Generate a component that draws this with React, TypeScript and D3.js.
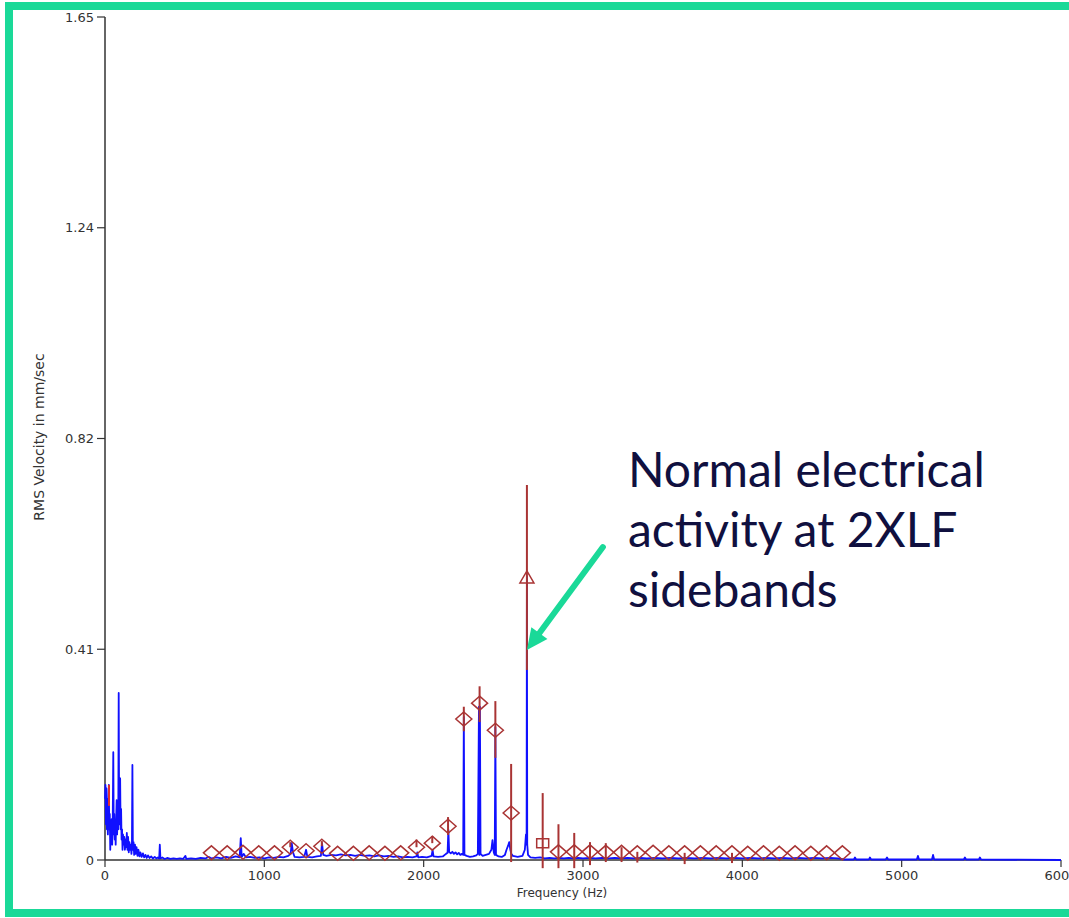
import React from "react";
import * as d3 from "d3";

// axis ticks
const freqTicks = [0, 1000, 2000, 3000, 4000, 5000, 6000];
const velTicks = [0, 0.4125, 0.825, 1.2375, 1.65];
const velLabels = ["0", "0.41", "0.82", "1.24", "1.65"];

// blue spectrum, [Hz, mm/sec]
const spectrum: [number, number][] = [
  [0, 0.12], [3, 0.147], [6, 0.07], [9, 0.14], [12, 0.06], [15, 0.12], [18, 0.05], [21, 0.1],
  [24, 0.147], [27, 0.06], [30, 0.09], [33, 0.02], [36, 0.07], [39, 0.04], [42, 0.08], [45, 0.03],
  [48, 0.06], [52, 0.211], [55, 0.05], [58, 0.09], [61, 0.04], [64, 0.07], [67, 0.03], [70, 0.08],
  [73, 0.117], [76, 0.05], [79, 0.09], [83, 0.06], [86, 0.327], [89, 0.07], [92, 0.157], [95, 0.16],
  [98, 0.06], [101, 0.1], [104, 0.04], [107, 0.06], [110, 0.02], [113, 0.05], [117, 0.03], [121, 0.045],
  [125, 0.02], [129, 0.04], [133, 0.025], [137, 0.053], [141, 0.02], [145, 0.045], [149, 0.015], [153, 0.035],
  [157, 0.02], [162, 0.03], [166, 0.012], [169, 0.03], [172, 0.186], [175, 0.02], [179, 0.035], [183, 0.01],
  [188, 0.03], [193, 0.012], [198, 0.025], [204, 0.008], [210, 0.02], [216, 0.007], [222, 0.015], [230, 0.006],
  [238, 0.013], [246, 0.005], [254, 0.01], [262, 0.004], [270, 0.009], [280, 0.004], [290, 0.007], [300, 0.003],
  [312, 0.006], [322, 0.003], [332, 0.005], [340, 0.003], [344, 0.03], [348, 0.003], [360, 0.005], [375, 0.002],
  [390, 0.004], [410, 0.002], [430, 0.003], [450, 0.002], [470, 0.003], [490, 0.002], [505, 0.008], [510, 0.002],
  [540, 0.003], [570, 0.002], [600, 0.004], [630, 0.003], [650, 0.006], [670, 0.003], [700, 0.005], [730, 0.003],
  [760, 0.006], [790, 0.004], [820, 0.007], [845, 0.005], [852, 0.043], [858, 0.006], [870, 0.012], [885, 0.005],
  [910, 0.006], [940, 0.004], [970, 0.005], [1000, 0.003], [1030, 0.005], [1060, 0.004], [1090, 0.006], [1120, 0.005],
  [1150, 0.008], [1165, 0.012], [1172, 0.033], [1180, 0.015], [1190, 0.006], [1220, 0.005], [1250, 0.006], [1262, 0.02],
  [1270, 0.006], [1300, 0.005], [1330, 0.007], [1355, 0.008], [1362, 0.033], [1370, 0.01], [1390, 0.008], [1420, 0.01],
  [1450, 0.009], [1480, 0.011], [1510, 0.009], [1540, 0.01], [1570, 0.008], [1600, 0.01], [1630, 0.008], [1660, 0.009],
  [1690, 0.007], [1720, 0.009], [1750, 0.007], [1780, 0.008], [1810, 0.006], [1840, 0.007], [1870, 0.005], [1900, 0.006],
  [1930, 0.005], [1955, 0.007], [1960, 0.015], [1966, 0.005], [1990, 0.006], [2020, 0.005], [2050, 0.008], [2056, 0.02],
  [2062, 0.007], [2090, 0.006], [2120, 0.007], [2140, 0.012], [2150, 0.014], [2155, 0.059], [2160, 0.016], [2170, 0.013],
  [2180, 0.016], [2190, 0.012], [2200, 0.015], [2210, 0.011], [2220, 0.014], [2230, 0.01], [2240, 0.012], [2248, 0.01],
  [2252, 0.28], [2256, 0.01], [2270, 0.008], [2290, 0.006], [2310, 0.007], [2330, 0.009], [2340, 0.012], [2347, 0.3],
  [2350, 0.01], [2353, 0.3], [2357, 0.012], [2370, 0.008], [2390, 0.01], [2410, 0.012], [2425, 0.02], [2432, 0.039],
  [2440, 0.015], [2446, 0.01], [2450, 0.26], [2454, 0.01], [2470, 0.007], [2490, 0.006], [2510, 0.01], [2520, 0.02],
  [2530, 0.028], [2537, 0.035], [2544, 0.02], [2550, 0.012], [2560, 0.008], [2590, 0.006], [2620, 0.008], [2635, 0.02],
  [2642, 0.05], [2646, 0.03], [2648, 0.555], [2650, 0.03], [2655, 0.01], [2670, 0.005], [2700, 0.004], [2730, 0.005],
  [2760, 0.003], [2790, 0.004], [2820, 0.003], [2850, 0.004], [2880, 0.003], [2910, 0.004], [2940, 0.003], [2970, 0.004],
  [3000, 0.003], [3040, 0.004], [3080, 0.003], [3120, 0.004], [3160, 0.003], [3200, 0.004], [3240, 0.003], [3280, 0.004],
  [3320, 0.003], [3360, 0.004], [3400, 0.003], [3450, 0.004], [3500, 0.003], [3550, 0.004], [3600, 0.003], [3650, 0.004],
  [3700, 0.003], [3750, 0.004], [3800, 0.003], [3850, 0.004], [3900, 0.003], [3950, 0.004], [4000, 0.003], [4050, 0.004],
  [4100, 0.003], [4150, 0.004], [4200, 0.003], [4250, 0.004], [4300, 0.003], [4350, 0.004], [4400, 0.003], [4450, 0.004],
  [4500, 0.003], [4550, 0.004], [4600, 0.003], [4640, 0.001], [4700, 0.001], [4707, 0.005], [4714, 0.001], [4795, 0.001],
  [4801, 0.005], [4808, 0.001], [4900, 0.001], [4908, 0.005], [4915, 0.001], [5095, 0.001], [5102, 0.008], [5109, 0.001],
  [5190, 0.001], [5197, 0.01], [5204, 0.001], [5390, 0.001], [5397, 0.005], [5404, 0.001], [5485, 0.001], [5491, 0.005],
  [5498, 0.001], [6000, 0],
];

// fault markers (2XLF sidebands around 2648 Hz)
const markerFreq = [
  668, 767, 866, 965, 1064, 1163, 1262, 1361, 1460, 1559, 1658, 1757, 1856, 1955, 2054, 2153, 2252, 2351, 2450, 2549,
  2648, 2747, 2846, 2945, 3044, 3143, 3242, 3341, 3440, 3539, 3638, 3737, 3836, 3935, 4034, 4133, 4232, 4331, 4430,
  4529, 4628,
];
const markerShape = [
  "d", "d", "d", "d", "d", "d", "d", "d", "d", "d", "d", "d", "d", "d", "d", "d", "d", "d", "d", "d",
  "t", "s", "d", "d", "d", "d", "d", "d", "d", "d", "d", "d", "d", "d", "d", "d", "d", "d", "d", "d", "d",
];
const markerVal = [
  0.014, 0.014, 0.015, 0.014, 0.014, 0.025, 0.018, 0.027, 0.013, 0.013, 0.014, 0.013, 0.014, 0.025, 0.033, 0.066,
  0.276, 0.307, 0.254, 0.092, 0.552, 0.033, 0.016, 0.016, 0.016, 0.015, 0.015, 0.014, 0.015, 0.014, 0.014, 0.014,
  0.014, 0.014, 0.013, 0.014, 0.013, 0.014, 0.013, 0.014, 0.014,
];
const stemHi = [
  0.014, 0.014, 0.015, 0.014, 0.014, 0.035, 0.018, 0.037, 0.013, 0.013, 0.014, 0.013, 0.014, 0.04, 0.047, 0.084,
  0.3, 0.34, 0.311, 0.188, 0.734, 0.131, 0.07, 0.053, 0.035, 0.033, 0.025, 0.016, 0.015, 0.014, 0.014, 0.014,
  0.014, 0.014, 0.013, 0.014, 0.013, 0.014, 0.013, 0.014, 0.014,
];
const stemLo = [
  0.014, 0.014, 0.015, 0.014, 0.014, 0.025, 0.018, 0.027, 0.013, 0.013, 0.014, 0.013, 0.014, 0.025, 0.033, 0.049,
  0.252, 0.27, 0.2, -0.004, 0.372, -0.016, -0.016, -0.016, -0.01, -0.004, -0.004, -0.005, 0.015, 0.014, -0.008, 0.014,
  0.014, -0.006, 0.013, 0.014, 0.013, 0.014, 0.013, 0.014, 0.014,
];
// lone marker line near running speed
const lowStem = { f: 25, lo: 0.106, hi: 0.147 };

const noteLines = ["Normal electrical", "activity at 2XLF", "sidebands"];

const W = 1069;
const H = 918;
const GREEN = "#1ad998";
const RED = "#a93434";
const AXIS = "#333";

export default function App() {
  const x = d3.scaleLinear().domain([0, 6000]).range([105, 1061]);
  const y = d3.scaleLinear().domain([0, 1.65]).range([860, 17]);

  const line = d3
    .line<[number, number]>()
    .x((d) => x(d[0]))
    .y((d) => y(d[1]));

  const shapePath = (s: string) => {
    if (s === "t") return "M0,-7 L7,5 L-7,5 Z";
    if (s === "s") return "M-6,-4.5 L6,-4.5 L6,4.5 L-6,4.5 Z";
    return "M0,-7 L8,0 L0,7 L-8,0 Z";
  };

  // arrow, in data units
  const a0 = [x(3125), y(0.6125)];
  const a1 = [x(2648), y(0.411)];
  const dx = a1[0] - a0[0];
  const dy = a1[1] - a0[1];
  const len = Math.hypot(dx, dy);
  const ux = dx / len;
  const uy = dy / len;
  const headL = 21;
  const headW = 10;
  const bx = a1[0] - ux * headL;
  const by = a1[1] - uy * headL;

  const noteX = x(3282);
  const noteY = y(0.73);

  return (
    <svg
      width={W}
      height={H}
      style={{ position: "absolute", left: 0, top: 0, background: "#fff" }}
      fontFamily="DejaVu Sans, sans-serif"
    >
      <rect x={9} y={6} width={1120} height={907} fill="none" stroke={GREEN} strokeWidth={8} />

      {/* axes */}
      <line x1={x(0)} x2={x(0)} y1={y(0)} y2={y(1.65)} stroke={AXIS} strokeWidth={1.5} />
      <line x1={x(0)} x2={x(6000)} y1={y(0)} y2={y(0)} stroke={AXIS} strokeWidth={1.5} />
      {velTicks.map((v, i) => (
        <g key={"yt" + i}>
          <line x1={x(0) - 8} x2={x(0)} y1={y(v)} y2={y(v)} stroke={AXIS} strokeWidth={1.2} />
          <text x={x(0) - 11} y={y(v) + 4.5} textAnchor="end" fontSize={13} fill={AXIS}>
            {velLabels[i]}
          </text>
        </g>
      ))}
      {freqTicks.map((f) => (
        <g key={"xt" + f}>
          <line x1={x(f)} x2={x(f)} y1={y(0)} y2={y(0) + 7} stroke={AXIS} strokeWidth={1.2} />
          <text x={x(f)} y={879.5} textAnchor="middle" fontSize={13} fill={AXIS}>
            {f}
          </text>
        </g>
      ))}
      <text x={562} y={897} textAnchor="middle" fontSize={12} fill={AXIS}>
        Frequency (Hz)
      </text>
      <text
        transform={`translate(44,437) rotate(-90)`}
        textAnchor="middle"
        fontSize={14}
        fill={AXIS}
      >
        RMS Velocity in mm/sec
      </text>

      {/* spectrum */}
      <path d={line(spectrum) || ""} fill="none" stroke="#1010ff" strokeWidth={1.8} strokeLinejoin="round" />

      {/* markers */}
      <line x1={x(lowStem.f)} x2={x(lowStem.f)} y1={y(lowStem.lo)} y2={y(lowStem.hi)} stroke="#e03030" strokeWidth={2} />
      {markerFreq.map((f, i) => (
        <g key={"m" + i}>
          {stemHi[i] !== stemLo[i] && (
            <line x1={x(f)} x2={x(f)} y1={y(stemLo[i])} y2={y(stemHi[i])} stroke={RED} strokeWidth={2} />
          )}
          <path
            d={shapePath(markerShape[i])}
            transform={`translate(${x(f)},${y(markerVal[i])})`}
            fill="none"
            stroke={RED}
            strokeWidth={1.5}
          />
        </g>
      ))}

      {/* annotation */}
      <line
        x1={a0[0]}
        y1={a0[1]}
        x2={bx + ux * 2}
        y2={by + uy * 2}
        stroke={GREEN}
        strokeWidth={6}
        strokeLinecap="round"
      />
      <polygon
        points={`${a1[0]},${a1[1]} ${bx - uy * headW},${by + ux * headW} ${bx + uy * headW},${by - ux * headW}`}
        fill={GREEN}
      />
      {noteLines.map((t, i) => (
        <text
          key={t}
          x={noteX}
          y={noteY + i * 60}
          fontFamily="Lato, sans-serif"
          fontSize={48}
          fill="#10103f"
        >
          {t}
        </text>
      ))}
    </svg>
  );
}
